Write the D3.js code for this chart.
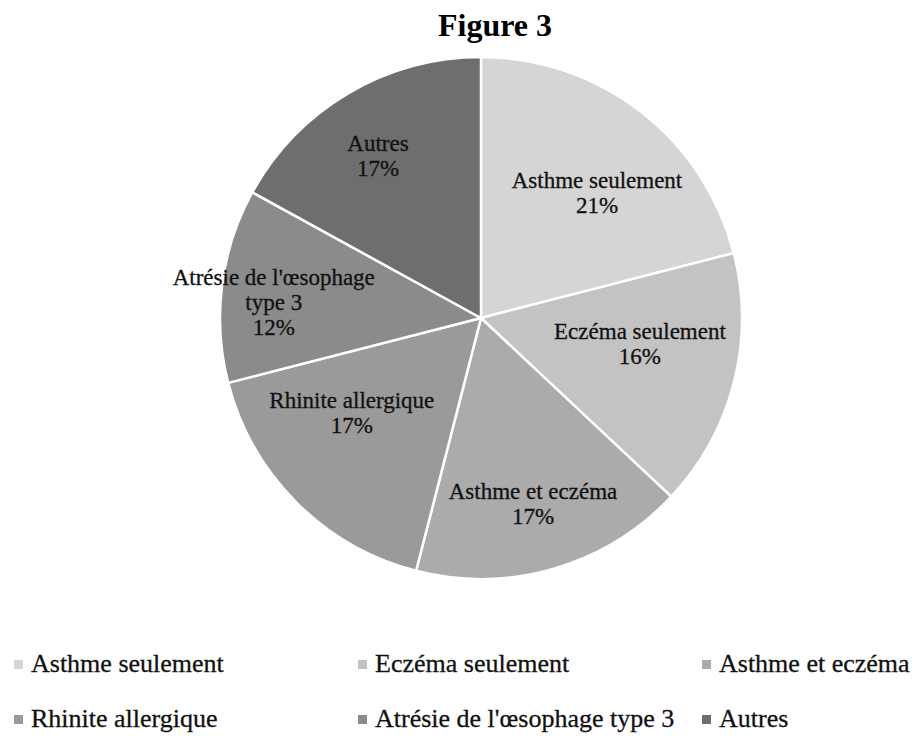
<!DOCTYPE html>
<html>
<head>
<meta charset="utf-8">
<script src="https://cdn.jsdelivr.net/npm/d3@7"></script>
<style>
  html, body { margin: 0; padding: 0; background: #fff; }
  svg { display: block; }
</style>
</head>
<body>
<svg id="chart" width="918" height="738"></svg>
<script>
// ---- data ----
const categories = ["Asthme seulement", "Eczéma seulement", "Asthme et eczéma", "Rhinite allergique", "Atrésie de l'œsophage type 3", "Autres"];
const values = [21, 16, 17, 17, 12, 17];
const labelLines = [["Asthme seulement"], ["Eczéma seulement"], ["Asthme et eczéma"], ["Rhinite allergique"], ["Atrésie de l'œsophage", "type 3"], ["Autres"]];
const title = "Figure 3";

// ---- style / layout ----
const colors = ["#d5d5d5", "#c3c3c3", "#ababab", "#9a9a9a", "#8b8b8b", "#6e6e6e"];
const cx = 481, cy = 318, R = 261;
const labelNudge = [[4, 14], [-18, -24], [1, 6], [0, -39], [-26, -10], [-10, -10]];
const font = "'Liberation Serif', 'Times New Roman', serif";

const svg = d3.select("#chart");

svg.append("text")
  .attr("x", 495).attr("y", 36)
  .attr("text-anchor", "middle")
  .attr("font-family", font).attr("font-weight", "bold").attr("font-size", 32)
  .attr("fill", "#000")
  .text(title);

const pie = d3.pie().sort(null).value(d => d.value);
const data = categories.map((c, i) => ({ name: c, value: values[i], i }));
const arcs = pie(data);
const arc = d3.arc().innerRadius(0).outerRadius(R);
const labelArc = d3.arc().innerRadius(R * 0.7).outerRadius(R * 0.7);

const g = svg.append("g").attr("transform", `translate(${cx},${cy})`);

g.selectAll("path.slice").data(arcs).join("path")
  .attr("class", "slice")
  .attr("d", arc)
  .attr("fill", d => colors[d.data.i])
  .attr("stroke", "#fff")
  .attr("stroke-width", 2.5)
  .attr("stroke-linejoin", "round");

const total = d3.sum(values);
g.selectAll("text.lbl").data(arcs).join("text")
  .attr("class", "lbl")
  .attr("font-family", font).attr("font-size", 23)
  .attr("fill", "#111")
  .attr("stroke", "#111").attr("stroke-width", 0.3)
  .attr("text-anchor", "middle")
  .each(function(d) {
    const [x, y] = labelArc.centroid(d);
    const [nx, ny] = labelNudge[d.data.i];
    const t = d3.select(this);
    const lines = labelLines[d.data.i].concat([Math.round(d.data.value / total * 100) + "%"]);
    lines.forEach((ln, k) => {
      t.append("tspan").attr("x", x + nx).attr("y", y + ny + k * 25).text(ln);
    });
  });

// ---- legend ----
const legendCols = [14, 358, 702];
const legendRows = [672, 727];
const lg = svg.append("g");
data.forEach((d, i) => {
  const col = i % 3, row = Math.floor(i / 3);
  const x = legendCols[col], y = legendRows[row];
  lg.append("rect")
    .attr("x", x).attr("y", y - 12).attr("width", 9).attr("height", 9)
    .attr("fill", colors[i]);
  lg.append("text")
    .attr("x", x + 17).attr("y", y)
    .attr("font-family", font).attr("font-size", 26)
    .attr("fill", "#111")
    .attr("stroke", "#111").attr("stroke-width", 0.3)
    .text(d.name);
});
</script>
</body>
</html>
